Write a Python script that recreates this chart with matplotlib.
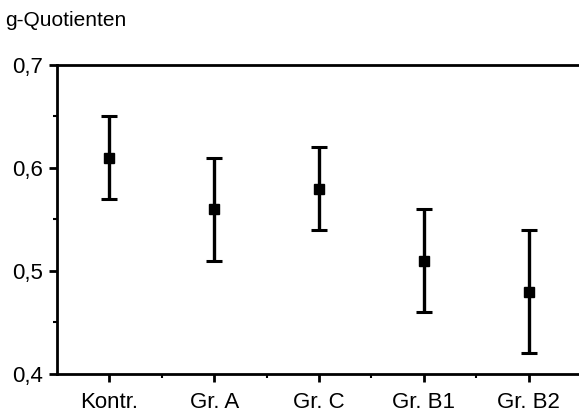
import matplotlib
matplotlib.use("Agg")
import matplotlib.pyplot as plt
from matplotlib.ticker import MultipleLocator, FixedLocator

categories = ["Kontr.", "Gr. A", "Gr. C", "Gr. B1", "Gr. B2"]
means = [0.61, 0.56, 0.58, 0.51, 0.48]
upper = [0.65, 0.61, 0.62, 0.56, 0.54]
lower = [0.57, 0.51, 0.54, 0.46, 0.42]
y_ticks = [0.4, 0.5, 0.6, 0.7]
y_ticklabels = ["0,4", "0,5", "0,6", "0,7"]

plt.rcParams['font.family'] = ['Liberation Sans', 'DejaVu Sans']

fig = plt.figure(figsize=(5.79, 4.15), dpi=100)
ax = fig.add_axes([57/579, 1-374/415, (581-57)/579, (374-65)/415])

x = list(range(len(categories)))
yerr = [[m - l for m, l in zip(means, lower)], [u - m for m, u in zip(means, upper)]]
ax.errorbar(x, means, yerr=yerr, fmt='s', color='black', ms=7.5, elinewidth=2.4,
            capsize=6, capthick=2.2)

ax.set_xlim(-0.5, 4.5)
ax.set_ylim(0.4, 0.7)
ax.set_xticks(x)
ax.set_xticklabels(categories, fontsize=16)
ax.xaxis.set_minor_locator(FixedLocator([0.5, 1.5, 2.5, 3.5]))
ax.set_yticks(y_ticks)
ax.set_yticklabels(y_ticklabels, fontsize=16)
ax.yaxis.set_minor_locator(MultipleLocator(0.05))
ax.tick_params(which='major', direction='out', length=6, width=2)
ax.tick_params(axis='x', which='major', pad=7)
ax.tick_params(axis='y', which='major', pad=4)
ax.tick_params(which='minor', direction='out', length=3, width=1.5)
for s in ax.spines.values():
    s.set_linewidth(2)

fig.text(5/579, 1-20/415, "g-Quotienten", fontsize=15, ha='left', va='center')

fig.savefig("out.png", dpi=100)
